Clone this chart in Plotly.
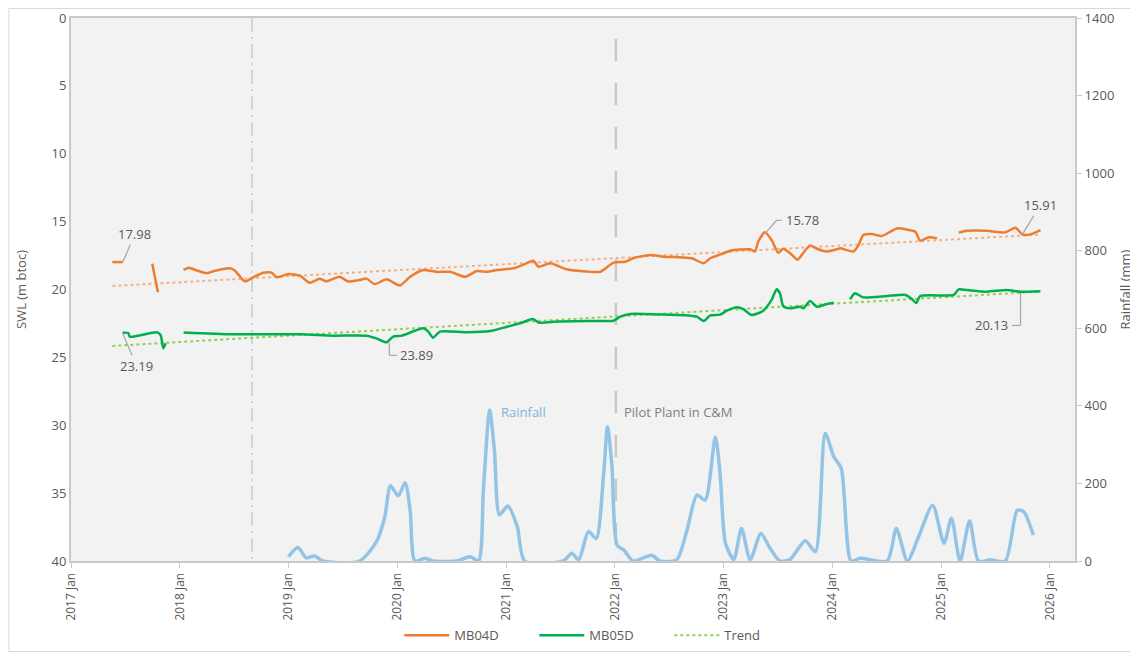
import plotly.graph_objects as go

# ---------------- data ----------------
mb04d_dates = ["2017-05-20", "2017-06-24", "2017-08-01",
               "2017-10-01", "2017-10-20", "2017-12-01",
               "2018-01-14", "2018-01-31", "2018-02-28", "2018-04-01", "2018-05-04", "2018-06-18",
               "2018-07-05", "2018-08-08", "2018-09-05", "2018-10-09", "2018-11-06", "2018-11-23",
               "2019-01-01", "2019-02-10", "2019-03-13", "2019-04-16", "2019-05-08", "2019-06-22",
               "2019-07-20", "2019-08-28", "2019-09-20", "2019-10-18", "2019-11-27", "2020-01-11",
               "2020-02-14", "2020-03-29", "2020-05-13", "2020-06-27", "2020-08-17", "2020-09-25",
               "2020-10-29", "2020-12-02", "2021-01-27", "2021-03-11", "2021-04-03", "2021-04-20",
               "2021-05-29", "2021-07-24", "2021-09-08", "2021-11-14", "2021-12-28", "2022-02-06",
               "2022-03-04", "2022-04-30", "2022-06-14", "2022-08-09", "2022-09-18", "2022-10-27",
               "2022-11-18", "2023-01-02", "2023-01-25", "2023-04-01", "2023-04-17", "2023-04-28",
               "2023-05-20", "2023-06-12", "2023-07-04", "2023-07-21", "2023-08-13", "2023-09-07",
               "2023-09-27", "2023-10-19", "2023-11-11", "2023-12-14", "2024-01-17", "2024-01-28",
               "2024-03-13", "2024-03-30", "2024-04-15", "2024-05-13", "2024-06-16", "2024-08-06",
               "2024-09-15", "2024-10-07", "2024-10-23", "2024-11-21", "2024-12-19", "2025-01-20",
               "2025-03-01", "2025-03-29", "2025-06-04", "2025-08-05", "2025-09-08", "2025-10-01",
               "2025-10-28", "2025-12-01"]
mb04d_swl = [17.98, 17.98, None,
             18.10, 20.20, None,
             18.56, 18.39, 18.60, 18.80, 18.60, 18.44,
             18.60, 19.40, 19.10, 18.76, 18.76, 19.10,
             18.86, 19.00, 19.50, 19.20, 19.40, 19.06,
             19.40, 19.30, 19.20, 19.60, 19.25, 19.70,
             19.06, 18.56, 18.70, 18.70, 19.06, 18.64,
             18.70, 18.56, 18.44, 18.07, 17.88, 18.32,
             18.07, 18.51, 18.64, 18.69, 18.02, 17.95,
             17.70, 17.46, 17.58, 17.63, 17.70, 18.07,
             17.70, 17.33, 17.14, 17.04, 17.20, 16.48,
             15.78, 16.35, 17.29, 17.00, 17.33, 17.80,
             17.29, 16.75, 17.00, 17.20, 17.04, 16.96,
             17.20, 16.72, 15.99, 15.91, 16.06, 15.50,
             15.62, 15.74, 16.40, 16.15, 16.23, None,
             15.81, 15.67, 15.67, 15.79, 15.45, 15.94,
             15.94, 15.62]

mb05d_dates = ["2017-06-23", "2017-07-12", "2017-07-18", "2017-10-16", "2017-10-29", "2017-11-07",
               "2017-11-15", "2017-12-15",
               "2018-01-14", "2018-06-29", "2019-02-10", "2019-05-31", "2019-09-20", "2019-10-24",
               "2019-11-27", "2019-12-19", "2020-01-17", "2020-03-29", "2020-04-15", "2020-05-01",
               "2020-05-24", "2020-08-22", "2020-11-09", "2021-01-04", "2021-02-18", "2021-04-01",
               "2021-04-23", "2021-06-09", "2021-10-22", "2021-12-28", "2022-01-20", "2022-02-23",
               "2022-06-14", "2022-09-12", "2022-10-04", "2022-10-27", "2022-11-18", "2022-12-21",
               "2023-01-13", "2023-02-16", "2023-03-09", "2023-04-06", "2023-05-15", "2023-06-12",
               "2023-06-29", "2023-07-10", "2023-07-21", "2023-08-13", "2023-09-16", "2023-09-27",
               "2023-10-19", "2023-11-11", "2023-12-14", "2024-01-07", "2024-02-01",
               "2024-03-02", "2024-03-18", "2024-04-15", "2024-07-04", "2024-09-04", "2024-09-26",
               "2024-10-10", "2024-10-23", "2025-02-13", "2025-03-01", "2025-03-29", "2025-06-04",
               "2025-08-10", "2025-09-25", "2025-12-01"]
mb05d_swl = [23.19, 23.20, 23.48, 23.15, 23.35, 24.33,
             23.96, None,
             23.16, 23.30, 23.30, 23.40, 23.40, 23.60,
             23.89, 23.47, 23.40, 22.86, 23.10, 23.55,
             23.10, 23.15, 23.06, 22.74, 22.49, 22.17,
             22.45, 22.37, 22.32, 22.30, 22.00, 21.80,
             21.85, 21.93, 22.00, 22.32, 21.90, 21.85,
             21.56, 21.31, 21.45, 21.88, 21.56, 20.77,
             19.99, 20.28, 21.22, 21.39, 21.27, 21.39,
             20.85, 21.27, 21.07, 20.97, None,
             20.72, 20.28, 20.58, 20.48, 20.40, 20.72,
             21.00, 20.48, 20.40, 19.99, 20.04, 20.16,
             20.04, 20.16, 20.13]

trend_dates = ["2017-05-20", "2025-12-01"]
mb04d_trend = [19.74, 15.95]
mb05d_trend = [24.16, 20.15]

rain_dates = ["2019-01-01", "2019-02-02", "2019-03-02", "2019-03-30", "2019-04-27", "2019-08-28",
              "2019-10-24", "2019-11-21", "2019-12-10", "2020-01-05", "2020-01-28", "2020-02-14",
              "2020-03-01", "2020-04-04", "2020-05-01", "2020-07-19", "2020-09-03", "2020-10-01",
              "2020-10-17", "2020-11-07", "2020-11-23", "2020-12-10", "2021-01-07", "2021-02-08",
              "2021-03-05", "2021-07-12", "2021-08-10", "2021-09-02", "2021-10-05", "2021-10-31",
              "2021-11-25", "2021-12-08", "2021-12-23", "2022-01-09", "2022-02-01", "2022-03-04",
              "2022-05-05", "2022-06-02", "2022-07-28", "2022-09-01", "2022-10-04", "2022-11-01",
              "2022-12-05", "2022-12-21", "2023-01-08", "2023-02-05", "2023-03-03", "2023-04-01",
              "2023-05-07", "2023-06-07", "2023-07-10", "2023-08-13", "2023-10-03", "2023-11-06",
              "2023-12-09", "2024-01-07", "2024-02-01", "2024-03-05", "2024-04-05", "2024-07-04",
              "2024-08-04", "2024-09-10", "2024-10-18", "2024-12-04", "2025-01-11", "2025-02-05",
              "2025-03-06", "2025-04-07", "2025-05-07", "2025-06-16", "2025-08-05", "2025-09-14",
              "2025-10-06", "2025-11-07"]
rain_mm = [11, 35, 8, 13, 0, 0,
           50, 114, 194, 168, 202, 131,
           0, 7, 0, 0, 11, 0,
           183, 389, 286, 119, 142, 88,
           0, 0, 20, 3, 76, 58,
           226, 346, 243, 41, 28, 0,
           15, 0, 3, 80, 170, 157,
           320, 226, 46, 4, 84, 3,
           71, 33, 0, 4, 52, 24,
           329, 269, 239, 0, 7, 0,
           84, 0, 63, 144, 46, 110,
           0, 104, 0, 3, 0, 131,
           127, 67]

event_dates = ["2018-09-01", "2022-01-05"]
x_range = ["2017-01-01", "2026-03-27"]
swl_range = [40, 0]
rain_range = [0, 1400]

# ---------------- style ----------------
ORANGE = "#ed7d31"
GREEN = "#00b050"
ORANGE_T = "#f4b183"
GREEN_T = "#92d050"
BLUE = "#93c4e6"
GRID = "#c9c9c9"
TXT = "#595959"
FONT = "Open Sans"

fig = go.Figure()

fig.add_trace(go.Scatter(x=rain_dates, y=rain_mm, yaxis="y2", mode="lines",
                         line=dict(color=BLUE, width=3.5, shape="spline", smoothing=0.7),
                         showlegend=False, name="Rainfall"))
fig.add_trace(go.Scatter(x=trend_dates, y=mb04d_trend, mode="lines",
                         line=dict(color=ORANGE_T, width=2, dash="dot"), showlegend=False))
fig.add_trace(go.Scatter(x=trend_dates, y=mb05d_trend, mode="lines", name="Trend",
                         line=dict(color=GREEN_T, width=2, dash="dot"), legendrank=3))
fig.add_trace(go.Scatter(x=mb04d_dates, y=mb04d_swl, mode="lines", name="MB04D",
                         line=dict(color=ORANGE, width=2.5, shape="spline", smoothing=0.6),
                         connectgaps=False, legendrank=1))
fig.add_trace(go.Scatter(x=mb05d_dates, y=mb05d_swl, mode="lines", name="MB05D",
                         line=dict(color=GREEN, width=2.5, shape="spline", smoothing=0.6),
                         connectgaps=False, legendrank=2))

LEAD = "#a6a6a6"
shapes = [
    dict(type="line", xref="x", yref="y", x0=event_dates[0], x1=event_dates[0], y0=0, y1=40,
         line=dict(color=GRID, width=1.5, dash="14px,5px,2px,5px"), layer="below"),
    dict(type="line", xref="x", yref="y", x0=event_dates[1], x1=event_dates[1], y0=1.55, y1=40,
         line=dict(color=GRID, width=2.5, dash="22px,22px"), layer="below"),
    # elbow leaders
    dict(type="line", xref="x", yref="y", x0="2019-12-06", x1="2019-12-06", y0=23.95, y1=24.85,
         line=dict(color=LEAD, width=1.2)),
    dict(type="line", xref="x", yref="y", x0="2019-12-06", x1="2020-01-01", y0=24.85, y1=24.85,
         line=dict(color=LEAD, width=1.2)),
    dict(type="line", xref="x", yref="y", x0="2023-05-22", x1="2023-06-29", y0=15.85, y1=14.9,
         line=dict(color=LEAD, width=1.2)),
    dict(type="line", xref="x", yref="y", x0="2023-06-29", x1="2023-07-16", y0=14.9, y1=14.9,
         line=dict(color=LEAD, width=1.2)),
    dict(type="line", xref="x", yref="y", x0="2025-09-25", x1="2025-09-25", y0=20.25, y1=22.65,
         line=dict(color=LEAD, width=1.2)),
    dict(type="line", xref="x", yref="y", x0="2025-09-25", x1="2025-08-28", y0=22.65, y1=22.65,
         line=dict(color=LEAD, width=1.2)),
    # outer chart frame
    dict(type="rect", xref="paper", yref="paper", x0=-0.0619, x1=1.0602, y0=-0.1667, y1=1.0175,
         line=dict(color="#d9d9d9", width=1)),
]

ann_font = dict(family=FONT, size=13, color=TXT)
annotations = [
    dict(x="2017-06-24", y=17.98, xref="x", yref="y", text="17.98", showarrow=True, arrowhead=0,
         arrowwidth=1.2, arrowcolor=LEAD, ax=12, ay=-28, font=ann_font),
    dict(x="2017-06-23", y=23.19, xref="x", yref="y", text="23.19", showarrow=True, arrowhead=0,
         arrowwidth=1.2, arrowcolor=LEAD, ax=14, ay=33, font=ann_font),
    dict(x="2025-10-01", y=15.94, xref="x", yref="y", text="15.91", showarrow=True, arrowhead=0,
         arrowwidth=1.2, arrowcolor=LEAD, ax=18, ay=-29, font=ann_font),
    dict(x="2020-01-04", y=24.85, xref="x", yref="y", text="23.89", showarrow=False,
         xanchor="left", yanchor="middle", font=ann_font),
    dict(x="2023-07-22", y=14.9, xref="x", yref="y", text="15.78", showarrow=False,
         xanchor="left", yanchor="middle", font=ann_font),
    dict(x="2025-08-22", y=22.65, xref="x", yref="y", text="20.13", showarrow=False,
         xanchor="right", yanchor="middle", font=ann_font),
    dict(x="2021-02-28", y=29.0, xref="x", yref="y", text="Rainfall", showarrow=False,
         font=dict(family=FONT, size=13, color="#7fb2dd")),
    dict(x="2022-01-24", y=29.0, xref="x", yref="y", text="Pilot Plant in C&M", showarrow=False,
         xanchor="left", font=dict(family=FONT, size=13, color="#7f7f7f")),
]

# page body has an 8px margin, so the figure is 1130x646 placed at (8, 8)
fig.update_layout(
    width=1130, height=646,
    margin=dict(l=63, r=63, t=10, b=93, autoexpand=False),
    paper_bgcolor="white", plot_bgcolor="#f2f2f2",
    font=dict(family=FONT, size=13, color=TXT),
    shapes=shapes, annotations=annotations,
    legend=dict(orientation="h", x=0.327, xanchor="left", y=-0.137, yanchor="middle",
                font=dict(family=FONT, size=13, color=TXT), bgcolor="rgba(0,0,0,0)",
                itemwidth=45, entrywidth=75, entrywidthmode="pixels", traceorder="normal"),
    xaxis=dict(type="date", range=x_range, tick0="2017-01-01", dtick="M12", tickformat="%Y %b",
               tickangle=-90, showgrid=False, zeroline=False, showline=True, mirror=True,
               linecolor=GRID, linewidth=2, ticks="outside", ticklen=5, tickcolor=GRID,
               tickfont=dict(family=FONT, size=12, color=TXT), automargin=False),
    yaxis=dict(range=swl_range, dtick=5, showgrid=False, zeroline=False, showline=True, mirror=True,
               linecolor=GRID, linewidth=2, ticks="", tickfont=dict(family=FONT, size=13, color=TXT),
               title=dict(text="SWL (m btoc)", font=dict(family=FONT, size=13, color=TXT), standoff=22),
               automargin=False),
    yaxis2=dict(range=rain_range, dtick=200, overlaying="y", side="right", showgrid=False,
                zeroline=False, showline=True, linecolor=GRID, linewidth=2, ticks="outside",
                ticklen=5, tickcolor=GRID, tickfont=dict(family=FONT, size=13, color=TXT),
                title=dict(text="Rainfall (mm)", font=dict(family=FONT, size=13, color=TXT), standoff=8),
                automargin=False),
)

fig.write_html("out.html")
